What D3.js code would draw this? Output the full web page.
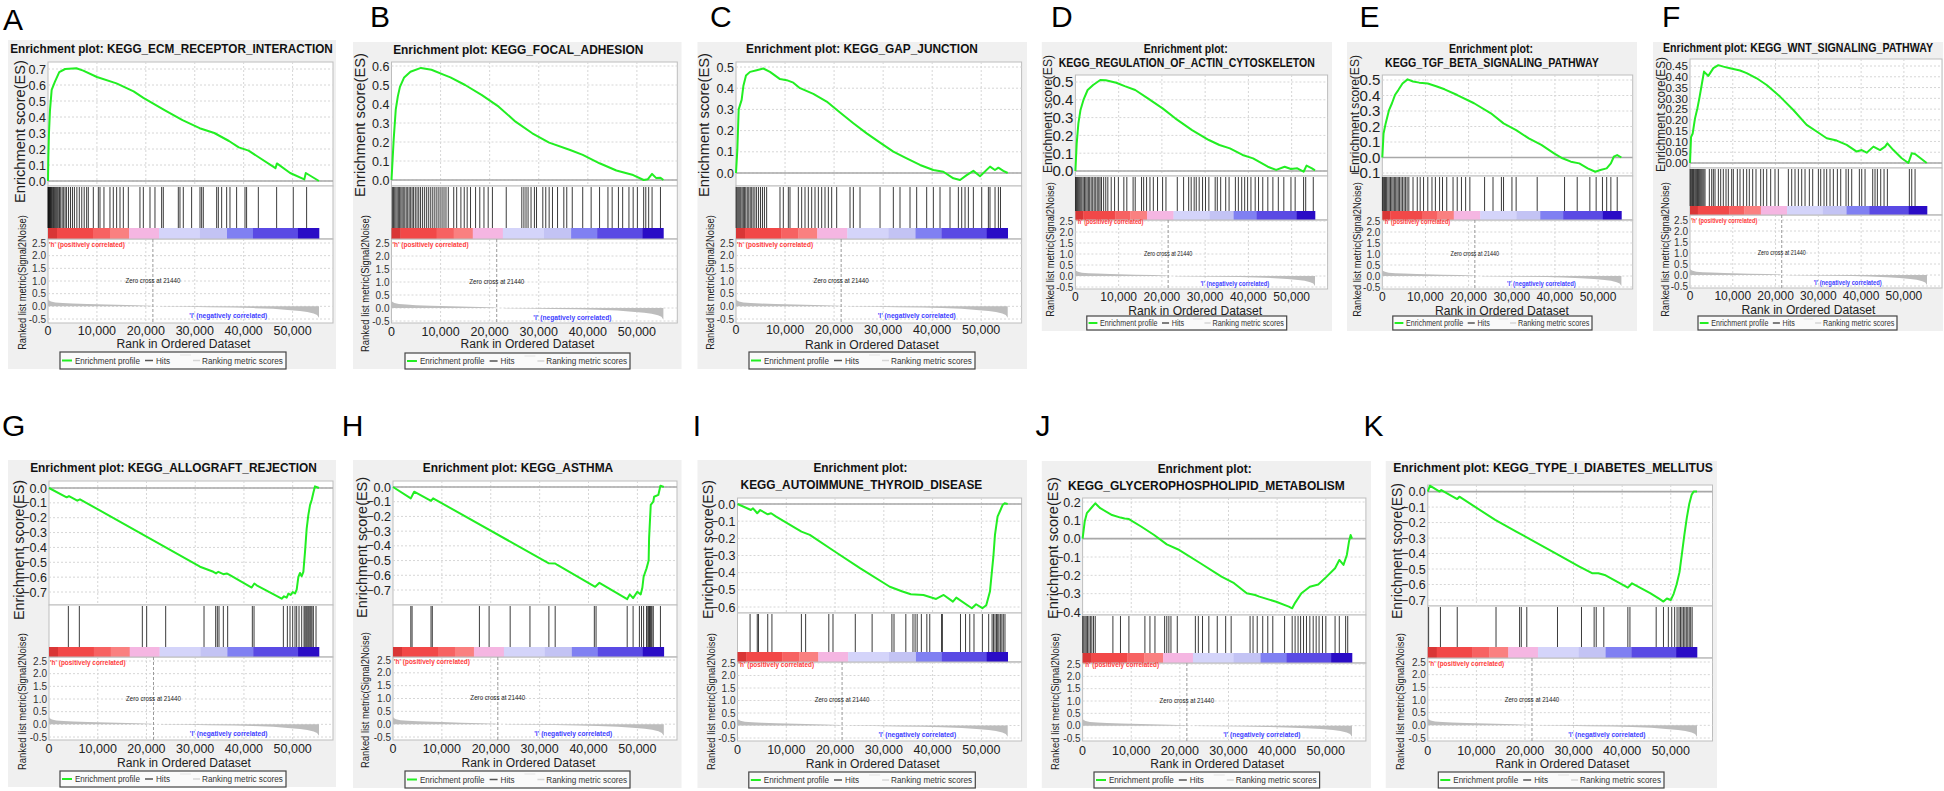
<!DOCTYPE html>
<html><head><meta charset="utf-8">
<script src="https://cdn.jsdelivr.net/npm/d3@7"></script>
<style>
body{margin:0;background:#fff;}
svg{display:block;font-family:"Liberation Sans",Arial,sans-serif;}
</style>
</head><body>
<svg id="chart" width="1944" height="791"></svg>
<script>
// ---------------- shared data ----------------
const N = 55400;
const zeroCross = 21440;
const xTicks = [0, 10000, 20000, 30000, 40000, 50000];
const xTickLabels = ["0", "10,000", "20,000", "30,000", "40,000", "50,000"];
const metricTicks = [2.5, 2.0, 1.5, 1.0, 0.5, 0.0, -0.5];
const metricTickLabels = ["2.5", "2.0", "1.5", "1.0", "0.5", "0.0", "-0.5"];
const metricRanks  = [0, 150, 600, 1500, 3000, 5000, 8000, 10000, 14000, 18000, 21000, 21440, 23000, 23100, 28000, 33000, 38000, 42000, 46000, 49000, 51500, 53000, 54300, 55000, 55400];
const metricValues = [0.29, 0.24, 0.19, 0.15, 0.13, 0.11, 0.09, 0.08, 0.06, 0.04, 0.02, 0, 0, -0.01, -0.02, -0.035, -0.05, -0.07, -0.1, -0.14, -0.18, -0.22, -0.28, -0.34, -0.45];
const cbarStarts = [0, 1840, 9200, 12670, 16560, 22690, 31070, 36590, 41900, 51100];
const cbarEnds   = [1840, 9200, 12670, 16560, 22690, 31070, 36590, 41900, 51100, 55400];
const cbarColors = ["#d93636", "#f24848", "#f76262", "#fa8080", "#f5b6e2", "#d4d4fa", "#c3c3f4", "#8080f2", "#5a4ae4", "#2a0cc6"];
const legendLabels = ["Enrichment profile", "Hits", "Ranking metric scores"];

// ---------------- per-panel data ----------------
const panelIds = ["A","B","C","D","E","F","G","H","I","J","K"];
const titlesA = ["Enrichment plot: KEGG_ECM_RECEPTOR_INTERACTION"];
const titlesB = ["Enrichment plot: KEGG_FOCAL_ADHESION"];
const titlesC = ["Enrichment plot: KEGG_GAP_JUNCTION"];
const titlesD = ["Enrichment plot:", "KEGG_REGULATION_OF_ACTIN_CYTOSKELETON"];
const titlesE = ["Enrichment plot:", "KEGG_TGF_BETA_SIGNALING_PATHWAY"];
const titlesF = ["Enrichment plot: KEGG_WNT_SIGNALING_PATHWAY"];
const titlesG = ["Enrichment plot: KEGG_ALLOGRAFT_REJECTION"];
const titlesH = ["Enrichment plot: KEGG_ASTHMA"];
const titlesI = ["Enrichment plot:", "KEGG_AUTOIMMUNE_THYROID_DISEASE"];
const titlesJ = ["Enrichment plot:", "KEGG_GLYCEROPHOSPHOLIPID_METABOLISM"];
const titlesK = ["Enrichment plot: KEGG_TYPE_I_DIABETES_MELLITUS"];

const esTicksA = [0,0.1,0.2,0.3,0.4,0.5,0.6,0.7];
const esTicksB = [0,0.1,0.2,0.3,0.4,0.5,0.6];
const esTicksC = [0,0.1,0.2,0.3,0.4,0.5];
const esTicksD = [0,0.1,0.2,0.3,0.4,0.5];
const esTicksE = [-0.1,0,0.1,0.2,0.3,0.4,0.5];
const esTicksF = [0,0.05,0.1,0.15,0.2,0.25,0.3,0.35,0.4,0.45];
const esTicksG = [-0.7,-0.6,-0.5,-0.4,-0.3,-0.2,-0.1,0];
const esTicksH = [-0.7,-0.6,-0.5,-0.4,-0.3,-0.2,-0.1,0];
const esTicksI = [-0.6,-0.5,-0.4,-0.3,-0.2,-0.1,0];
const esTicksJ = [-0.4,-0.3,-0.2,-0.1,0,0.1,0.2];
const esTicksK = [-0.7,-0.6,-0.5,-0.4,-0.3,-0.2,-0.1,0];

const esRankA = [0,70,200,400,750,1400,2300,3500,5800,7200,10000,14000,17500,19500,24000,27500,31000,34000,37000,39000,41000,43000,46500,46800,49500,52400,52700,55400];
const esValA  = [0,0.15,0.30,0.44,0.57,0.62,0.68,0.70,0.705,0.69,0.65,0.61,0.56,0.52,0.44,0.38,0.33,0.30,0.25,0.21,0.19,0.15,0.08,0.11,0.05,0.01,0.05,0];
const hitsA = [20,60,120,200,290,380,470,560,700,850,1000,1150,1300,1500,1700,1900,2100,2350,2600,2900,3200,3500,3800,4200,4600,5000,5400,5900,6400,6900,7400,7900,8240,9265,10290,10630,11440,12670,13350,14030,14720,15400,16420,18800,19490,20850,21870,23230,23570,26640,26980,27660,29360,31070,31410,31750,34480,34820,35500,36520,37200,38560,40270,40600,43000,46740,50140,52870];

const esRankB = [0,436,864,1290,1720,2580,3860,6000,8140,10710,12000,15000,18420,21840,25270,28690,32120,36400,38970,42390,45820,49240,51380,52240,53090,53950,54800,55400];
const esValB  = [0,0.21,0.37,0.44,0.49,0.54,0.57,0.59,0.58,0.553,0.54,0.50,0.447,0.386,0.307,0.246,0.197,0.158,0.132,0.088,0.05,0.026,0,0.004,0.032,0.01,0.012,0];
const hitsB = [180,400,650,900,1150,1400,1650,1900,2150,2400,2700,3000,3300,3600,3900,4200,4500,4850,5200,5550,5900,6300,6700,7100,7500,7900,8300,8700,9100,9500,9900,10300,10700,11100,11570,12680,13280,14140,14820,15420,16100,17130,17990,18840,19700,20560,23380,26550,26980,27410,27830,28430,29120,29550,30830,31430,32120,32800,33830,35110,35710,36830,38960,40680,42390,44100,44960,46240,47100,48380,49240,50100,51380,51810,52400,53090,54800];

const esRankC = [0,272,545,1150,1500,2040,2860,4220,5570,6930,8970,10330,11690,13050,15770,18490,21210,23930,26650,29370,32080,34800,37520,40240,42280,44320,45680,47040,48400,49760,51800,52800,53500,54500,55400];
const esValC  = [0,0.11,0.30,0.345,0.41,0.46,0.477,0.485,0.493,0.477,0.443,0.438,0.426,0.40,0.373,0.337,0.285,0.235,0.187,0.143,0.101,0.069,0.038,0.014,0.006,-0.025,-0.033,-0.01,0.01,-0.015,0.03,0.014,0.025,0.01,0];
const hitsC = [30,200,400,600,800,1000,1250,1500,1750,2000,2300,2600,2900,3200,3500,3850,4200,4600,5000,5400,5800,6250,8970,9650,10670,11010,12710,13390,14070,14750,15430,16110,16790,17470,18150,18830,19510,20530,23250,23930,25290,29370,32080,33440,35480,36840,38880,40240,41600,43640,45340,46020,46700,47380,48400,50100,51460,51790,52820,53500,53930];

const esRankD = [0,300,690,1180,1860,2830,4100,5750,7020,9450,11400,13830,16750,20160,23080,26970,30860,33300,35730,38650,41080,44490,46430,48380,49840,51300,52760,53440,54700,55400];
const esValD  = [0,0.155,0.268,0.343,0.399,0.455,0.483,0.511,0.51,0.496,0.477,0.455,0.408,0.352,0.296,0.23,0.174,0.146,0.127,0.09,0.071,0.024,0.006,0.024,0.011,0.015,-0.004,0.03,0.015,0.004];
const hitsD = [30,250,500,750,1000,1250,1500,1800,2100,2400,2700,3000,3300,3650,4000,4350,4700,5050,5400,5700,6040,6530,7020,7500,8280,9060,9940,11200,11890,13340,13830,15290,15780,16460,17240,18020,18990,20160,20940,23560,25020,26190,26770,27460,27940,28620,29400,30080,30860,32320,32810,33590,34750,35530,36990,37680,38450,39140,39820,40590,41570,42340,43320,44490,45660,46920,48190,49840,50810,52760,53250,55000];

const esRankE = [0,290,780,1560,2240,2930,3710,4680,5850,7120,8580,10540,12480,14430,17360,21260,25160,28090,31010,33940,36860,39790,41740,43690,45640,47590,49350,50520,51980,52960,53640,54420,55400];
const esValE  = [0,0.155,0.22,0.306,0.35,0.403,0.435,0.477,0.504,0.49,0.483,0.477,0.46,0.44,0.403,0.35,0.285,0.22,0.177,0.123,0.081,0.027,-0.005,-0.027,-0.038,-0.07,-0.092,-0.081,-0.07,-0.038,0.005,0.016,0];
const hitsE = [30,250,500,750,1000,1300,1600,1900,2200,2500,2800,3100,3400,3700,4000,4350,4700,5050,5400,5750,6150,7120,8100,8780,9560,10540,11510,12300,13270,13950,14930,16390,17360,18340,19310,20290,23700,25650,27600,28090,30040,31010,35890,42230,45160,48090,49550,51010,51990,52960,54430];

const esRankF = [0,240,630,1170,1720,2180,2730,3270,4290,5460,6630,7790,9350,11690,13250,15590,17930,21040,24160,27270,29610,31950,34290,36630,38970,40140,41310,42870,44430,45600,46140,47540,49490,51050,51830,52610,55330];
const esValF  = [0,0.12,0.137,0.207,0.253,0.30,0.362,0.424,0.404,0.44,0.454,0.447,0.44,0.429,0.417,0.393,0.362,0.308,0.246,0.177,0.146,0.115,0.104,0.084,0.053,0.06,0.048,0.076,0.06,0.076,0.091,0.06,0.022,0,0.045,0.042,0];
const hitsF = [30,200,400,600,800,1000,1250,1500,1750,2000,2250,2500,2750,3000,3250,3510,4520,5070,5460,5850,6630,7170,7790,8420,8960,9740,10130,11070,11690,12470,13250,13870,14650,15430,16520,17150,17930,18860,19870,20650,22990,23770,24550,25330,26110,26890,27900,28680,30010,30550,31330,31950,32730,33510,34450,35230,36470,37020,37800,39590,40140,40920,42710,43250,43800,44580,45360,46140,51280,51830,52610];

const esRankG = [0,3625,4100,5810,6360,18000,30985,33720,34270,34750,35770,36460,37140,41590,42130,42610,47740,48220,48770,49110,49590,50000,50480,50820,51160,51500,51850,52190,52530,52870,53210,53560,53900,54240,54580,55270,55400];
const esValG  = [0,-0.063,-0.054,-0.085,-0.076,-0.29,-0.53,-0.564,-0.575,-0.564,-0.58,-0.575,-0.587,-0.67,-0.643,-0.655,-0.745,-0.729,-0.738,-0.711,-0.72,-0.70,-0.71,-0.684,-0.60,-0.572,-0.594,-0.565,-0.43,-0.273,-0.183,-0.115,-0.081,-0.032,0.011,0.002,0];
const hitsG = [3970,6225,19150,20040,23940,31810,34200,34540,34880,35770,36660,41720,42070,48090,48910,49450,50000,50480,50820,51300,51850,52330,52530,52740,52940,53150,53350,53560,53760,53970,54240,54790];

const esRankH = [0,3645,4330,7780,8210,31890,33180,33620,41370,42230,47910,48430,49120,49980,50670,51010,51270,51870,52300,52390,52730,53250,53420,54280,54710,55400];
const esValH  = [0,-0.077,-0.032,-0.095,-0.077,-0.519,-0.52,-0.53,-0.678,-0.651,-0.762,-0.73,-0.755,-0.712,-0.73,-0.685,-0.61,-0.553,-0.5,-0.349,-0.122,-0.1,-0.066,-0.054,0.009,0];
const hitsH = [3645,3900,7780,8040,17680,19660,23970,28020,31890,33180,41190,41540,47910,49120,50410,50840,51270,51870,52130,52300,52480,52650,52820,52990,53250,54710];

const esRankI = [0,2750,3180,4050,4650,6200,6890,7930,13110,14830,20010,25190,31230,33820,35540,38130,40720,42270,44170,44860,48050,48920,50210,51000,51760,52460,52790,53320,53920,54350,54780,55400];
const esValI  = [0,-0.035,-0.025,-0.054,-0.035,-0.06,-0.054,-0.074,-0.161,-0.18,-0.278,-0.375,-0.482,-0.51,-0.526,-0.53,-0.553,-0.53,-0.569,-0.545,-0.607,-0.584,-0.607,-0.59,-0.51,-0.307,-0.18,-0.074,-0.035,-0.006,0.004,0];
const hitsI = [2580,4050,4300,6200,7060,13100,13970,18720,19580,24150,27600,31660,32090,34510,35980,36410,36840,37700,38820,39420,41840,42010,45720,46760,47620,48490,50210,51500,52200,52500,52800,53100,53350,53600,53900,54200,54500,54840];

const esRankJ = [0,430,870,1730,2600,3630,6060,7790,8650,9520,12110,14710,17310,19900,24230,28560,31150,33750,35480,36350,39810,42400,43100,43700,45000,46730,48460,50190,51920,52790,53650,54340,54780,55120,55400];
const esValJ  = [0,0.093,0.139,0.166,0.193,0.166,0.129,0.115,0.11,0.107,0.065,0.02,-0.031,-0.062,-0.134,-0.207,-0.243,-0.298,-0.307,-0.316,-0.344,-0.371,-0.38,-0.35,-0.298,-0.262,-0.25,-0.207,-0.161,-0.116,-0.143,-0.089,-0.016,0.02,0];
const hitsJ = [30,250,500,750,1000,1300,1600,1900,2250,2600,6230,7790,9520,12810,13850,14880,16870,17310,17740,18170,19470,23190,23800,24660,25960,27690,29420,30550,34440,35050,35910,37040,38080,39110,41540,43100,43700,44310,44830,45430,46040,46730,47420,48030,48630,49330,50020,51920,52790,54090,54520];

const esRankK = [0,430,2420,2770,6060,6500,13870,18200,26870,31200,33800,35100,36400,41170,42030,45760,47500,48500,49200,50000,50600,51200,51800,52300,52800,53300,53800,54300,54700,55400];
const esValK  = [0,0.038,0,0.01,-0.048,-0.033,-0.183,-0.258,-0.409,-0.484,-0.527,-0.527,-0.538,-0.62,-0.592,-0.656,-0.69,-0.71,-0.69,-0.70,-0.66,-0.60,-0.52,-0.40,-0.28,-0.17,-0.08,-0.02,0,0];
const hitsK = [170,2600,6060,14040,18890,19240,20370,26690,31630,34230,34660,36220,41170,41600,47000,48500,49500,50200,50800,51300,51700,52000,52300,52600,52900,53200,53500,53800,54100,54400];

const panelData = {
  A:{titles:titlesA, ticks:esTicksA, rank:esRankA, val:esValA, hits:hitsA},
  B:{titles:titlesB, ticks:esTicksB, rank:esRankB, val:esValB, hits:hitsB},
  C:{titles:titlesC, ticks:esTicksC, rank:esRankC, val:esValC, hits:hitsC},
  D:{titles:titlesD, ticks:esTicksD, rank:esRankD, val:esValD, hits:hitsD},
  E:{titles:titlesE, ticks:esTicksE, rank:esRankE, val:esValE, hits:hitsE},
  F:{titles:titlesF, ticks:esTicksF, rank:esRankF, val:esValF, hits:hitsF},
  G:{titles:titlesG, ticks:esTicksG, rank:esRankG, val:esValG, hits:hitsG},
  H:{titles:titlesH, ticks:esTicksH, rank:esRankH, val:esValH, hits:hitsH},
  I:{titles:titlesI, ticks:esTicksI, rank:esRankI, val:esValI, hits:hitsI},
  J:{titles:titlesJ, ticks:esTicksJ, rank:esRankJ, val:esValJ, hits:hitsJ},
  K:{titles:titlesK, ticks:esTicksK, rank:esRankK, val:esValK, hits:hitsK}
};

// ---------------- layout (pixels) ----------------
const layout = {
  A:{bg:[8,40,336,369], letter:[3,30], tcx:[171.5], ty:[53], tw:[323], x0:48, cbarEnd:319, fR:333, es:[62,186], esRef:[0.7,69,0,181], cbar:[228,239], met:323, metRef:[243,319], xTickY:335, xTitleY:348, xFs:12.5, xtFs:13.5, legend:[60,352,286,369], esLab:[19,60,203], esLabFs:15.5, metLab:[22,215,350], esFs:12.5, tickFmt:".1f"},
  B:{bg:[353,42,681.5,369], letter:[370,27], tcx:[518.3], ty:[54], tw:[250.6], x0:391.5, cbarEnd:663.4, fR:677.3, es:[62,186], esRef:[0.6,66,0,180], cbar:[228,239], met:323, metRef:[243,321], xTickY:336, xTitleY:348, xFs:12.5, xtFs:13.5, legend:[405,353,630,369], esLab:[359.5,53,197], esLabFs:15.5, metLab:[365.8,215,352], esFs:12.5, tickFmt:".1f"},
  C:{bg:[697.5,42,1027,369], letter:[710,27], tcx:[862], ty:[53], tw:[232], x0:736, cbarEnd:1007.7, fR:1021.6, es:[62,186], esRef:[0.5,67,0,173], cbar:[228,239], met:323, metRef:[243,319], xTickY:334, xTitleY:349, xFs:12.5, xtFs:13.5, legend:[749,352,975,369], esLab:[703,53,197], esLabFs:15.5, metLab:[710,215,350], esFs:12.5, tickFmt:".1f"},
  D:{bg:[1041.8,42,1332,331], letter:[1051,27], tcx:[1185.7,1186.8], ty:[53,67], tw:[84,256.4], x0:1075.4, cbarEnd:1315, fR:1327.6, es:[75,176], esRef:[0.5,82,0,171], cbar:[211,220], met:289, metRef:[221,287], xTickY:301, xTitleY:315, xFs:12, xtFs:12.5, legend:[1086.8,316,1286.7,330], esLab:[1047.5,55,173], esLabFs:13.5, metLab:[1050,182,317], esFs:15, tickFmt:".1f"},
  E:{bg:[1347,42,1637,331], letter:[1359.6,27], tcx:[1491,1491.9], ty:[53,67], tw:[84,214], x0:1382.3, cbarEnd:1621.4, fR:1632.7, es:[75,176], esRef:[0.5,80,-0.1,173], cbar:[211,220], met:289, metRef:[221,287], xTickY:301, xTitleY:315, xFs:12, xtFs:12.5, legend:[1392.8,316,1592,330], esLab:[1354,55,173], esLabFs:13.5, metLab:[1357,182,317], esFs:15, tickFmt:".1f"},
  F:{bg:[1653,42,1943,331], letter:[1662,27], tcx:[1798], ty:[52], tw:[270], x0:1690, cbarEnd:1927, fR:1942, es:[59,168], esRef:[0.45,66,0,163], cbar:[206,215], met:288, metRef:[220,286], xTickY:300, xTitleY:314, xFs:12, xtFs:12.5, legend:[1698,316,1897,330], esLab:[1660,57,172], esLabFs:13.5, metLab:[1665,182,317], esFs:11.6, tickFmt:".2f"},
  G:{bg:[8,460,336,787], letter:[2,436], tcx:[173.5], ty:[472], tw:[287], x0:49, cbarEnd:319, fR:333, es:[481,605], esRef:[0,488,-0.7,592], cbar:[647,657], met:740, metRef:[661,737], xTickY:753, xTitleY:767, xFs:12.5, xtFs:13.5, legend:[60,771,286,787], esLab:[18,480,620], esLabFs:15.5, metLab:[22,633,770], esFs:12.5, tickFmt:".1f"},
  H:{bg:[353,460,681.5,788], letter:[341.8,436], tcx:[518], ty:[472], tw:[190.7], x0:393, cbarEnd:663.8, fR:677, es:[481,605], esRef:[0,487,-0.7,590], cbar:[647,657], met:740, metRef:[660,737], xTickY:753, xTitleY:767, xFs:12.5, xtFs:13.5, legend:[405,771,630,788], esLab:[361.6,477,618], esLabFs:15.5, metLab:[365.8,632,768], esFs:12.5, tickFmt:".1f"},
  I:{bg:[697.5,460,1027,788], letter:[692.8,436], tcx:[860.4,861.4], ty:[472,489], tw:[94,242], x0:737.5, cbarEnd:1007.7, fR:1021.6, es:[498,613], esRef:[0,504,-0.6,607], cbar:[652,662], met:741, metRef:[663,738], xTickY:754, xTitleY:768, xFs:12.5, xtFs:13.5, legend:[748.8,772,975.3,788], esLab:[707.6,480,619], esLabFs:15.5, metLab:[711,633,770], esFs:12.5, tickFmt:".1f"},
  J:{bg:[1041.8,461,1371,788], letter:[1035.5,436], tcx:[1204.7,1206.4], ty:[473,490], tw:[94,277], x0:1082.6, cbarEnd:1352, fR:1365.9, es:[498,615], esRef:[0.2,502,-0.4,612], cbar:[653,663], met:741, metRef:[664,738], xTickY:755, xTitleY:768, xFs:12.5, xtFs:13.5, legend:[1094,772,1319.6,788], esLab:[1052.3,477,619], esLabFs:15.5, metLab:[1055,633,770], esFs:12.5, tickFmt:".1f"},
  K:{bg:[1385.7,461,1717,788], letter:[1363.4,436], tcx:[1553], ty:[472], tw:[320], x0:1427.8, cbarEnd:1697, fR:1712.5, es:[485,606], esRef:[0,491.6,-0.7,600], cbar:[647,658], met:741, metRef:[662,738], xTickY:755, xTitleY:768, xFs:12.5, xtFs:13.5, legend:[1438.3,772,1664,788], esLab:[1396,483,619], esLabFs:15.5, metLab:[1400.4,633,770], esFs:12.5, tickFmt:".1f"}
};

const svg = d3.select("#chart");
const FRAME = "#bdbdbd", GRID = "#d6d6d6";

// place a text and squeeze it horizontally to a target width
function fitText(sel, target, tx, ty, rotate) {
  const w = sel.node().getComputedTextLength();
  const s = w > 0 ? Math.min(1.15, target / w) : 1;
  sel.attr("transform", `translate(${tx},${ty})` + (rotate ? " rotate(-90)" : "") + ` scale(${s},1)`);
  return sel;
}

function drawPanel(id) {
  const L = layout[id], D = panelData[id];
  const g = svg.append("g");
  const k = (L.cbarEnd - L.x0) / 271;

  g.append("rect").attr("x", L.bg[0]).attr("y", L.bg[1])
    .attr("width", L.bg[2] - L.bg[0]).attr("height", L.bg[3] - L.bg[1]).attr("fill", "#f0f0f0");

  svg.append("text").attr("x", L.letter[0]).attr("y", L.letter[1])
    .style("font-size", "30px").attr("fill", "#000").text(id);

  D.titles.forEach((t, i) => {
    const tt = g.append("text").attr("text-anchor", "middle")
      .style("font-size", "12px").style("font-weight", "bold").attr("fill", "#111").text(t);
    fitText(tt, L.tw[i], L.tcx[i], L.ty[i], false);
  });

  const x = d3.scaleLinear().domain([0, N]).range([L.x0, L.cbarEnd]);
  const y = d3.scaleLinear().domain([L.esRef[0], L.esRef[2]]).range([L.esRef[1], L.esRef[3]]);
  const m = d3.scaleLinear().domain([2.5, -0.5]).range([L.metRef[0], L.metRef[1]]);
  const fw = L.fR - L.x0;

  // plot backgrounds / frames
  g.append("rect").attr("x", L.x0).attr("y", L.es[0]).attr("width", fw).attr("height", L.es[1] - L.es[0])
    .attr("fill", "#fff").attr("stroke", FRAME);
  g.append("rect").attr("x", L.x0).attr("y", L.es[1]).attr("width", fw).attr("height", L.cbar[1] - L.es[1])
    .attr("fill", "#fff").attr("stroke", FRAME);
  g.append("rect").attr("x", L.x0).attr("y", L.cbar[1]).attr("width", fw).attr("height", L.met - L.cbar[1])
    .attr("fill", "#fff").attr("stroke", FRAME);

  // grids
  const xGridTicks = xTicks.filter(t => t > 0);
  g.selectAll(null).data(xGridTicks).enter().append("line")
    .attr("x1", d => x(d)).attr("x2", d => x(d)).attr("y1", L.es[0]).attr("y2", L.es[1])
    .attr("stroke", GRID).attr("stroke-dasharray", "2,2");
  g.selectAll(null).data(xGridTicks).enter().append("line")
    .attr("x1", d => x(d)).attr("x2", d => x(d)).attr("y1", L.cbar[1]).attr("y2", L.met)
    .attr("stroke", GRID).attr("stroke-dasharray", "2,2");
  g.selectAll(null).data(D.ticks).enter().append("line")
    .attr("x1", L.x0).attr("x2", L.fR).attr("y1", d => y(d)).attr("y2", d => y(d))
    .attr("stroke", GRID).attr("stroke-dasharray", "2,2");
  g.selectAll(null).data(metricTicks).enter().append("line")
    .attr("x1", L.x0).attr("x2", L.fR).attr("y1", d => m(d)).attr("y2", d => m(d))
    .attr("stroke", GRID).attr("stroke-dasharray", "2,2");

  // ES zero line
  g.append("line").attr("x1", L.x0).attr("x2", L.fR).attr("y1", y(0)).attr("y2", y(0))
    .attr("stroke", "#a8a8a8").attr("stroke-width", 1.6);

  // hits
  g.selectAll(null).data(D.hits).enter().append("line")
    .attr("x1", d => x(d)).attr("x2", d => x(d)).attr("y1", L.es[1] + 1).attr("y2", L.cbar[0])
    .attr("stroke", "#111").attr("stroke-opacity", 0.82).attr("stroke-width", 1);

  // color bar
  g.selectAll(null).data(cbarColors).enter().append("rect")
    .attr("x", (d, i) => x(cbarStarts[i])).attr("width", (d, i) => x(cbarEnds[i]) - x(cbarStarts[i]) + 0.3)
    .attr("y", L.cbar[0]).attr("height", L.cbar[1] - L.cbar[0]).attr("fill", d => d);
  g.append("line").attr("x1", L.x0).attr("x2", L.fR).attr("y1", L.cbar[1]).attr("y2", L.cbar[1]).attr("stroke", FRAME);

  // ranked metric area
  const area = d3.area().x((d, i) => x(metricRanks[i])).y0(m(0)).y1(d => m(d));
  g.append("path").datum(metricValues).attr("d", area).attr("fill", "#bdbdbd");

  // zero cross line
  g.append("line").attr("x1", x(zeroCross)).attr("x2", x(zeroCross)).attr("y1", L.cbar[1]).attr("y2", L.met)
    .attr("stroke", "#9a9a9a").attr("stroke-dasharray", "3,2");

  // annotations in metric plot
  fitText(g.append("text").style("font-size", "8px").style("font-weight", "bold").attr("fill", "#ff3b3b")
    .text("'h' (positively correlated)"), 76 * k, L.x0 + 1, m(2.36), false);
  fitText(g.append("text").attr("text-anchor", "middle").style("font-size", "7.5px").attr("fill", "#222")
    .text("Zero cross at " + zeroCross), 55 * k, x(zeroCross), m(0.93), false);
  fitText(g.append("text").style("font-size", "8px").style("font-weight", "bold").attr("fill", "#4040ff")
    .text("'l' (negatively correlated)"), 78 * k, x(28900), m(-0.46), false);

  // ES curve
  const line = d3.line().x((d, i) => x(D.rank[i])).y(d => y(d));
  g.append("path").datum(D.val).attr("d", line).attr("fill", "none")
    .attr("stroke", "#22ee22").attr("stroke-width", 2).attr("stroke-linejoin", "round");

  // ES tick labels
  const fmt = d3.format(L.tickFmt);
  g.selectAll(null).data(D.ticks).enter().append("text")
    .attr("x", L.x0 - 2).attr("y", d => y(d) + L.esFs * 0.36).attr("text-anchor", "end")
    .style("font-size", L.esFs + "px").attr("fill", "#222").text(d => fmt(d));

  // metric tick labels
  g.selectAll(null).data(metricTicks).enter().append("text")
    .attr("x", L.x0 - 2).attr("y", d => m(d) + 3.6).attr("text-anchor", "end")
    .style("font-size", "10px").attr("fill", "#333").text((d, i) => metricTickLabels[i]);

  // x tick labels
  g.selectAll(null).data(xTicks).enter().append("text")
    .attr("x", d => x(d)).attr("y", L.xTickY).attr("text-anchor", "middle")
    .style("font-size", L.xFs + "px").attr("fill", "#222").text((d, i) => xTickLabels[i]);

  // x title
  fitText(g.append("text").attr("text-anchor", "middle").style("font-size", L.xtFs + "px").attr("fill", "#222")
    .text("Rank in Ordered Dataset"), 134, (L.x0 + L.cbarEnd) / 2, L.xTitleY, false);

  // y titles
  fitText(g.append("text").attr("text-anchor", "middle").style("font-size", L.esLabFs + "px").attr("fill", "#222")
    .text("Enrichment score(ES)"), L.esLab[2] - L.esLab[1],
    L.esLab[0] + L.esLabFs * 0.36, (L.esLab[1] + L.esLab[2]) / 2, true);
  fitText(g.append("text").attr("text-anchor", "middle").style("font-size", "10px").attr("fill", "#222")
    .text("Ranked list metric(Signal2Noise)"), L.metLab[2] - L.metLab[1],
    L.metLab[0] + 3.6, (L.metLab[1] + L.metLab[2]) / 2, true);

  // legend
  const [lx0, ly0, lx1, ly1] = L.legend;
  const s = (lx1 - lx0) / 226, my = (ly0 + ly1) / 2;
  g.append("rect").attr("x", lx0).attr("y", ly0).attr("width", lx1 - lx0).attr("height", ly1 - ly0)
    .attr("fill", "#fafafa").attr("stroke", "#444").attr("stroke-width", 1.2);
  g.append("line").attr("x1", lx0 + 2 * s).attr("x2", lx0 + 12 * s).attr("y1", my).attr("y2", my).attr("stroke", "#22ee22").attr("stroke-width", 2);
  g.append("line").attr("x1", lx0 + 85 * s).attr("x2", lx0 + 93 * s).attr("y1", my).attr("y2", my).attr("stroke", "#555").attr("stroke-width", 1.5);
  g.append("line").attr("x1", lx0 + 120 * s).attr("x2", lx0 + 131 * s).attr("y1", ly0 + 3).attr("y2", ly0 + 3).attr("stroke", "#e4e4e4").attr("stroke-width", 1);
  g.append("line").attr("x1", lx0 + 133 * s).attr("x2", lx0 + 140 * s).attr("y1", my).attr("y2", my).attr("stroke", "#d6d6d6").attr("stroke-width", 1.5);
  const lpos = [15, 96, 142], lw = [65, 14, 81];
  legendLabels.forEach((t, i) => {
    fitText(g.append("text").style("font-size", "9.5px").attr("fill", "#333").text(t),
      lw[i] * s, lx0 + lpos[i] * s, my + 3.3, false);
  });
}

panelIds.forEach(drawPanel);
</script>
</body></html>
